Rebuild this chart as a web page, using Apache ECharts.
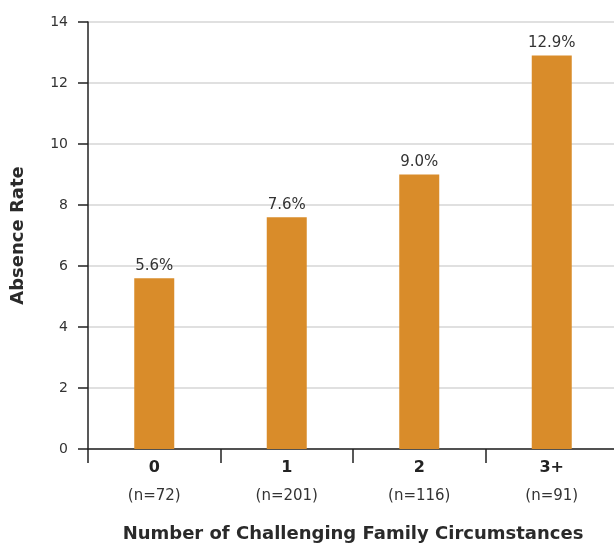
<!DOCTYPE html>
<html><head><meta charset="utf-8">
<script src="https://cdn.jsdelivr.net/npm/echarts@6/dist/echarts.min.js"></script>
<style>html,body{margin:0;padding:0;background:#fff}#c{width:614px;height:544px}</style>
</head><body><div id="c"></div>
<script>
const categories = ['0', '1', '2', '3+'];
const sampleSizes = ['(n=72)', '(n=201)', '(n=116)', '(n=91)'];
const absenceRates = [5.6, 7.6, 9.0, 12.9];
const yTicks = [0, 2, 4, 6, 8, 10, 12, 14];

const FONT = '"DejaVu Sans", sans-serif';
const chart = echarts.init(document.getElementById('c'));
chart.setOption({
  animation: false,
  textStyle: { fontFamily: FONT },
  grid: { left: 88, top: 22, width: 530, height: 427, containLabel: false, outerBoundsMode: 'none' },
  xAxis: {
    type: 'category',
    data: categories,
    boundaryGap: true,
    name: 'Number of Challenging Family Circumstances',
    nameLocation: 'middle',
    nameGap: 76,
    nameTextStyle: { fontSize: 18, fontWeight: 'bold', color: '#2a2a2a', fontFamily: FONT },
    axisLine: { lineStyle: { color: '#222', width: 1.5 } },
    axisTick: { show: true, length: 14, alignWithLabel: false, lineStyle: { color: '#222', width: 1.5 } },
    axisLabel: {
      margin: 5,
      formatter: (v, i) => '{b|' + v + '}\n{n|' + sampleSizes[i] + '}',
      rich: {
        b: { fontSize: 16, fontWeight: 'bold', color: '#222', fontFamily: FONT, lineHeight: 28 },
        n: { fontSize: 15, color: '#333', fontFamily: FONT, lineHeight: 28 }
      }
    }
  },
  yAxis: {
    type: 'value',
    min: yTicks[0],
    max: yTicks[yTicks.length - 1],
    interval: 2,
    name: 'Absence Rate',
    nameLocation: 'middle',
    nameGap: 61,
    nameTextStyle: { fontSize: 18, fontWeight: 'bold', color: '#2a2a2a', fontFamily: FONT },
    axisLine: { show: true, lineStyle: { color: '#222', width: 1.5 } },
    axisTick: { show: true, length: 10, lineStyle: { color: '#222', width: 1.5 } },
    axisLabel: { fontSize: 14, color: '#333', margin: 20, fontFamily: FONT },
    splitLine: { lineStyle: { color: '#d6d6d6', width: 1.5 } }
  },
  series: [{
    type: 'bar',
    data: absenceRates,
    barWidth: 40,
    itemStyle: { color: '#D98C2A' },
    label: {
      show: true,
      position: 'top',
      distance: 5,
      formatter: p => p.value.toFixed(1) + '%',
      fontSize: 15,
      color: '#333',
      fontFamily: FONT
    }
  }]
});
</script></body></html>
